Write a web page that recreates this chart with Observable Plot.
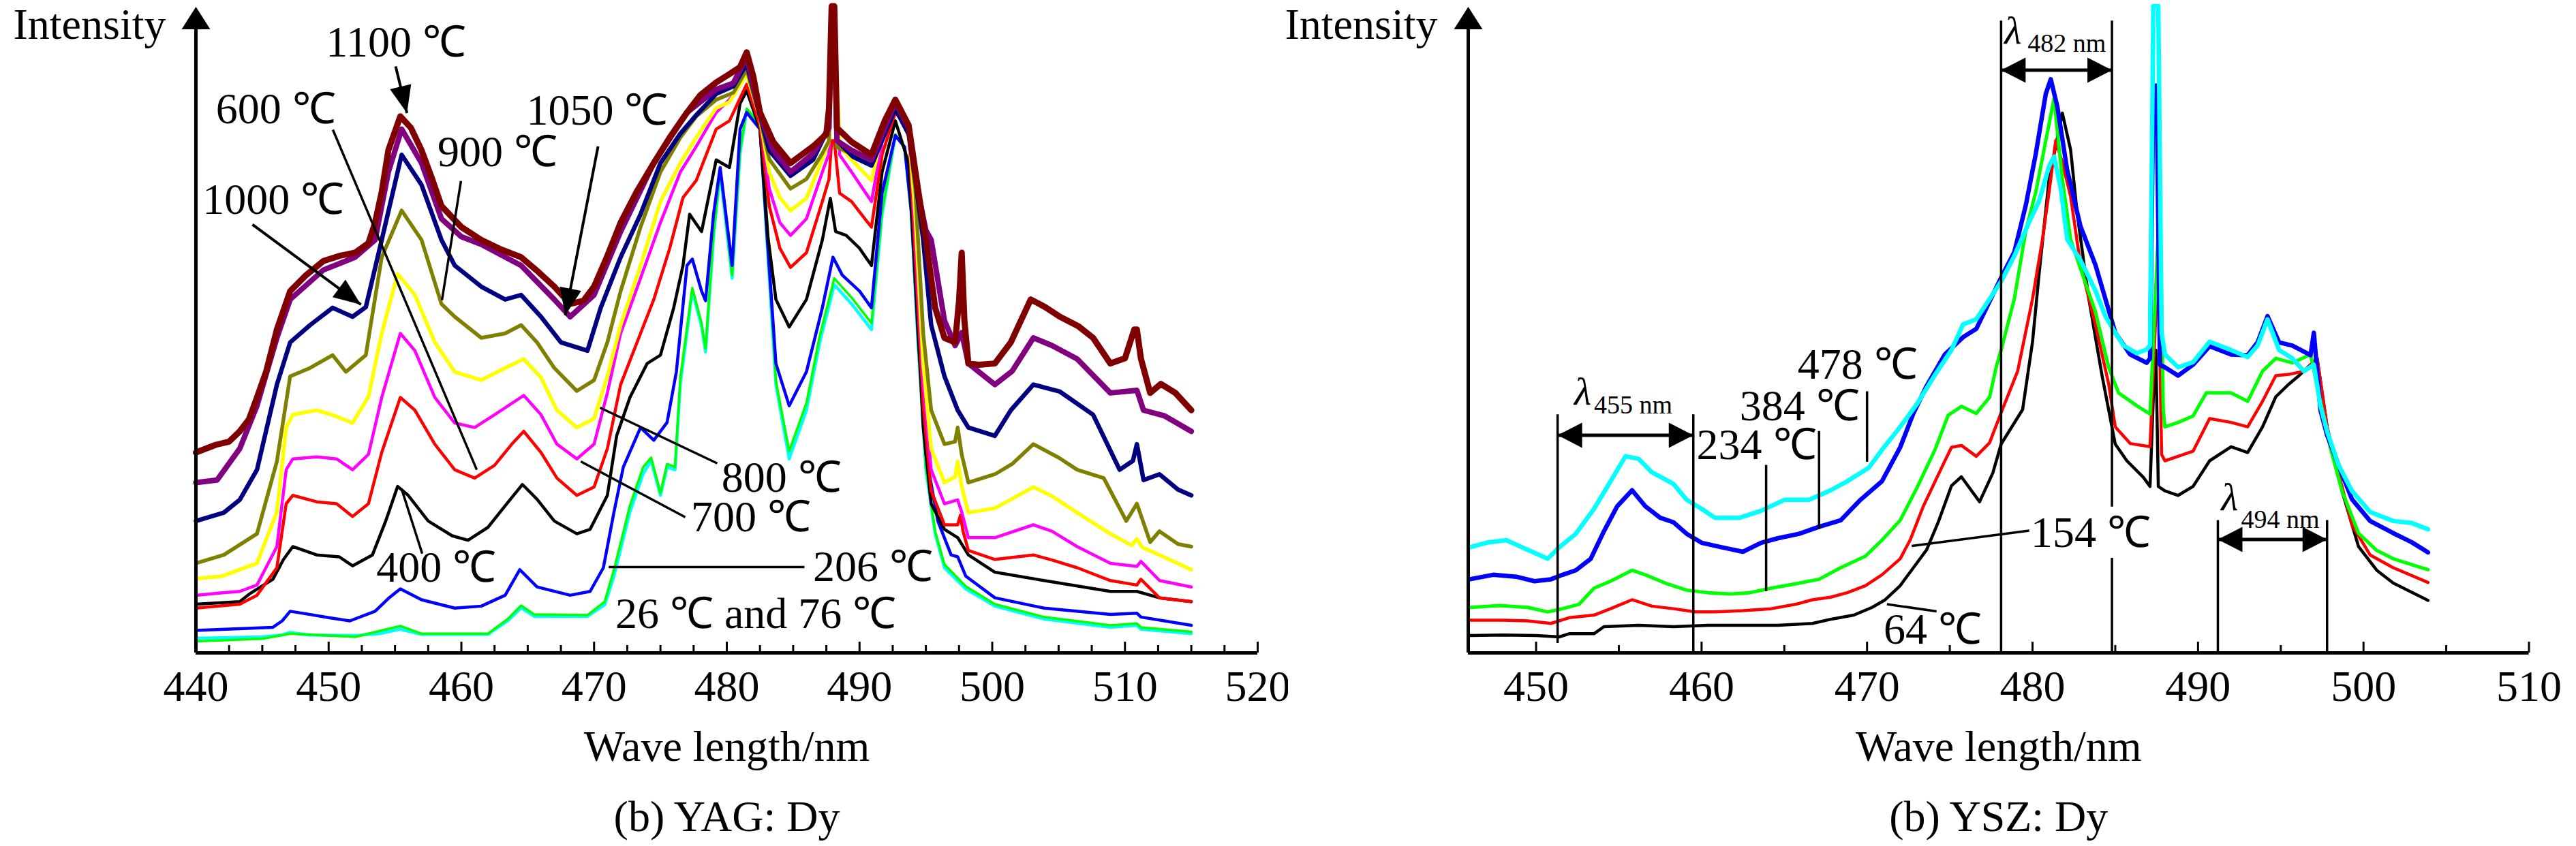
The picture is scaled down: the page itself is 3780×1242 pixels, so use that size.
<!DOCTYPE html>
<html>
<head>
<meta charset="utf-8">
<script src="https://cdn.jsdelivr.net/npm/d3@7"></script>
<script src="https://cdn.jsdelivr.net/npm/@observablehq/plot@0.6"></script>
<style>
html,body{margin:0;padding:0;background:#fff;}
#wrap{position:relative;width:3780px;height:1242px;display:flex;overflow:hidden;background:#fff;}
#wrap svg{flex:none;}
</style>
</head>
<body>
<div id="wrap"></div>
<script>
// ---------------- DATA: (b) YAG:Dy  [wavelength nm, intensity a.u.] ----------------
const yag26 = [[440,2.3],[445,2.5],[446.5,2.8],[447.1,3.2],[448.5,2.8],[452,2.7],[453.8,3],[455.4,3.7],[457,2.9],[462,2.9],[463.5,5],[464.5,7],[465.5,5.7],[469.5,5.7],[470.8,7.5],[471.5,12],[472.7,22],[473.7,28],[474.3,30],[475,24.6],[475.5,29],[476.1,28.6],[476.5,42],[477.4,56.5],[478.1,51],[478.4,47],[479,65],[479.5,75],[480.4,58.5],[481,78],[481.5,84.8],[482.5,82.4],[483.1,61.8],[483.7,41.9],[484.7,30.3],[486,37.9],[487,48.5],[487.8,55],[488.1,57.5],[489.4,54.5],[490.9,50.5],[491.7,68.5],[492.7,80.8],[493.4,79],[493.9,68.5],[494.4,48.5],[495,28.6],[495.7,18.6],[496.4,13.3],[498,10],[500.2,7.3],[503.9,5.3],[508.9,4],[510.9,4.3],[511.2,3.7],[515,3]];
const yag76 = [[440,1.8],[445,2.2],[447.1,3],[452,2.5],[455.4,4.2],[457,3],[462,3],[463.5,5.3],[464.5,7.4],[465.5,6],[469.5,5.9],[470.8,8],[471.5,13],[472.7,23],[473.7,29],[474.3,30.5],[475,25],[475.5,29.5],[476.1,29],[476.5,43],[477.4,57],[478.1,51.5],[478.4,47.5],[479,65.5],[479.5,75.5],[480.4,59],[481,78.5],[481.5,85],[482.5,82.6],[483.1,62.5],[483.7,42.5],[484.7,31.5],[486,39],[487,49.5],[487.8,56],[488.1,58.5],[489.4,55.5],[490.9,51.5],[491.7,69],[492.7,81],[493.4,79],[493.9,68.5],[494.4,48.5],[495,29],[495.7,19],[496.4,13.8],[498,10.4],[500.2,7.6],[503.9,5.6],[508.9,4.3],[510.9,4.6],[511.2,4],[515,3.3]];
const yag206 = [[440,3.5],[445.8,4],[446.5,5],[447.1,6.5],[448.6,6],[450,5.5],[451.6,5],[453.5,6.5],[454.5,8.5],[455.4,10],[457,8.3],[459.5,7],[461.5,7.3],[463.3,9],[464.4,13],[465.7,10.3],[468.2,9],[469.7,9.6],[470.7,13.3],[471.5,22],[472.2,29],[473.5,35.2],[474.5,33.2],[475.5,36],[476.2,43.9],[477,60.5],[477.4,61.5],[478.1,56.5],[478.4,55],[479,68.5],[479.5,75.8],[480.4,60.5],[481,81.8],[481.5,84.4],[482.5,81.8],[483.1,63.2],[483.7,45.2],[484.7,38.6],[486,43.9],[487.2,53.9],[488,61.8],[488.7,59],[490,56.5],[490.9,53.9],[491.7,71.8],[492.7,80.8],[493.4,79],[493.9,69],[494.4,50],[495,31],[495.9,20.6],[496.9,15.3],[497.4,15],[498,12],[500.2,8.6],[503.9,7],[508.9,6],[510.9,6.2],[511.2,5.6],[515,4.3]];
const yag400 = [[440,7.6],[443.3,8],[444.1,9.3],[445.8,11.5],[446.6,14.6],[447.3,16.6],[449.1,15.3],[450.8,15],[451.8,13.6],[453.3,15.3],[454.3,20.6],[455.2,26],[456,24.6],[457.5,20.6],[459.3,18.3],[460.5,17.6],[462,19.6],[463.5,23.5],[464.6,26.3],[465.7,24],[467,20.6],[468.7,18.6],[469.7,19.3],[471,24.6],[471.7,33.9],[472.7,39.9],[474,45.2],[475,46.5],[476,53.9],[476.7,60.5],[477.2,68.5],[478.1,65.8],[479.2,77],[480.2,75.8],[481,85.8],[481.5,87.8],[482.5,81.8],[483.1,65],[483.7,55.2],[484.7,50.9],[486,55.2],[487.2,64.5],[487.8,71],[488.2,65.8],[489,65.2],[490,63.2],[490.9,60.5],[491.7,75.1],[492.7,83.1],[493.7,76.5],[494.2,59.2],[494.8,35.2],[495.4,23.3],[496.4,19.3],[497.4,18],[498.2,15.3],[500.2,12.6],[503.9,11.3],[508.9,9.6],[510.9,9.6],[512.6,8.6],[515,8]];
const yag600 = [[440,7],[443.3,7.6],[444.6,9],[446.1,13.3],[446.8,23.3],[447.3,24.6],[449.1,23.6],[450.6,23.3],[451.8,21.3],[453,23.3],[454,31.3],[455.4,39.9],[456.5,37.9],[458,32.6],[459.5,28.6],[461,27.3],[462.5,29.3],[463.8,32.6],[464.7,34.6],[466,31.3],[467.2,27.3],[468.7,24.6],[470,25.9],[471,31.9],[472,41.9],[473.5,49.9],[474.5,55.2],[475.7,63.2],[476.7,71.1],[477.7,73.8],[479.2,81.8],[480.2,83.1],[481.5,88.8],[482.5,82.4],[483.2,69.8],[484,63.2],[484.8,60.2],[486,62.5],[487.2,70.5],[487.7,74],[487.9,80],[488.1,80],[488.5,71.8],[489.4,70.5],[490.4,67.8],[490.9,66.5],[491.7,77.8],[492.7,84.4],[493.7,81.8],[494.2,61.8],[494.8,38.6],[495.4,25.3],[496.4,20],[497.4,20],[497.6,21.5],[497.8,19],[498.2,16],[500.2,14.6],[503.1,15.3],[504.5,14.5],[506.4,13.3],[508.9,11.3],[510.9,10.6],[511.2,11.5],[512.6,8.6],[515,8]];
const yag700 = [[440,9],[442,9.4],[443.3,9.6],[444.6,10.6],[446.1,16.6],[446.8,28.6],[447.3,30.3],[449.1,30.6],[450.6,30.3],[451.8,28.6],[453,31],[454,39.9],[455.4,49.9],[456.5,47.2],[458,39.9],[459.5,35.9],[461,35.2],[462.5,37.2],[464.7,40.2],[466,37.2],[467.2,32.6],[468.7,30.3],[470,32.6],[471,40.6],[472,49.9],[473.5,58.5],[475,67.2],[476.5,75.1],[477.7,79.1],[479.2,84.4],[480.2,86.4],[481.5,90.4],[482.5,83.8],[483.2,72.5],[484,67.2],[484.8,65.2],[486,67.8],[487.2,75.1],[487.7,78],[487.9,95],[488.1,95],[488.5,77.8],[489.4,75.1],[490.9,70.5],[491.7,79.8],[492.7,85.1],[493.7,82.4],[494.2,65.2],[494.8,41.9],[495.4,28.6],[496.4,23.3],[497.4,23.9],[497.7,22],[498.2,18],[500.2,18],[503.1,20],[504.5,19],[506.4,16.6],[508.9,14],[510.9,13.5],[511.2,14.3],[512.6,11.3],[515,10.3]];
const yag800 = [[440,11.6],[442,12],[444.6,14],[446.1,22],[446.8,35.2],[447.3,37.2],[449.1,37.9],[450.5,37],[451.8,35.9],[453,40],[454,49.9],[455.2,59.2],[456.5,55.9],[458,48.5],[459.5,43.9],[461.5,42.6],[463.3,44.5],[464.7,45.9],[466,43],[467.2,37.9],[468.7,35.2],[470,36.6],[471,43.2],[472,51.2],[473.5,60.5],[475,70.5],[476.5,76.5],[477.7,80.5],[479.2,85.1],[480.2,86],[481.5,90.4],[482.5,83.5],[483.2,75.1],[484,71.1],[484.8,69.1],[486,71],[487.2,77.1],[487.7,80],[487.9,100],[488.1,100],[488.5,79.1],[489.4,77],[490.9,73.8],[491.7,81.1],[492.7,85],[493.7,82],[494.2,68.5],[494.8,45.2],[495.4,31.9],[496.4,26.6],[497.2,27.5],[497.4,29.9],[497.7,26],[498.2,21.9],[500.2,22.6],[503.1,25.9],[504.5,24.5],[506.4,21.9],[508.9,18.6],[510.5,16.8],[510.9,17.8],[511.3,16.5],[512.6,15.3],[515,13]];
const yag900 = [[440,14],[442.1,15.3],[444.6,18.6],[446.1,29.9],[447.1,43.2],[448.6,44.5],[450.3,46.5],[451.3,43.9],[452.8,46.5],[454,61.8],[455.5,69.1],[457,64.5],[458.5,54.5],[459.5,52.5],[461.5,49.2],[463.3,49.9],[464.5,51.2],[465.7,48.5],[467,44.5],[468.7,40.9],[470,42.6],[471,48.5],[472,56.5],[473.5,66.5],[475,75.1],[476.5,80.5],[477.7,83.8],[479.2,86.4],[480.5,87.5],[481.5,91.1],[482.5,83.5],[483.2,77.1],[484.8,72.5],[486,74],[487.2,78],[487.7,80],[487.9,100],[488.1,100],[488.3,79],[490.9,76.5],[492.7,86],[493.7,81],[494.2,72.5],[494.8,49.9],[495.4,37.9],[496.4,32.6],[497.2,33],[497.4,35.2],[497.7,31],[498.2,26.6],[500.2,27.9],[501.5,29.5],[503.1,32.6],[505,30.5],[506.4,28.6],[508.4,27.3],[510.1,20.6],[510.9,23.3],[511.9,17.3],[512.6,19],[514,17],[515,16.6]];
const yag1000 = [[440,20.6],[442.1,21.9],[443.3,23.9],[444.6,28.6],[446.1,41.9],[447.1,48.5],[448.6,51.2],[450.3,53.9],[451.8,52.5],[452.8,54],[454,64.5],[455.5,77.8],[457,73.1],[458.5,64.5],[459.5,60.5],[461.5,57.2],[463.3,55.2],[464.5,55.9],[466,52.5],[467.5,48.5],[469.5,47.2],[470.5,53.9],[472,61.8],[473.5,68.5],[475,76.5],[476.5,81.1],[477.7,84],[479.2,87.3],[480.5,88.5],[481.5,92],[482.5,84],[483.2,78.5],[484.8,74.5],[486.5,77],[487.2,80],[487.7,82],[487.9,100],[488.1,100],[488.3,80],[489.5,77.5],[490.9,76.1],[492.7,85],[493.7,81],[494.2,74],[494.8,64.5],[495.4,51.2],[496.4,43.2],[497.4,37.9],[498.2,35.2],[500.2,33.9],[501.4,37.9],[503.1,41.9],[505.1,40.8],[507.6,37.2],[509.6,28.6],[510.6,30],[510.9,32.6],[511.4,27],[512.6,27.9],[514,25.5],[515,24.6]];
const yag1050 = [[440,26.6],[441.6,27],[443.3,31.9],[444.6,38.6],[446.1,49.2],[447.1,55.2],[449.6,59.8],[452,61.8],[453.5,64.5],[454.5,75.1],[455.5,81.8],[457,76.5],[458.5,67.8],[460,65],[461.5,63.8],[464.5,60.5],[467,55.2],[468.2,52.5],[470,55.9],[472,65.8],[474.5,76.5],[477,84.4],[479.2,88],[480.5,89],[481.5,93.1],[482.5,84],[483.5,78.5],[484.8,75.1],[486.5,78],[487.7,82],[487.9,100],[488.1,100],[488.3,80],[489.4,78.5],[490.9,77],[492.7,86],[493.7,82],[494.4,72],[495,66],[495.4,64.5],[496.4,51.9],[497.2,48],[497.7,50],[498.2,45.2],[500.2,41.9],[501.5,44],[503.1,49.2],[504.5,48],[506.4,45.9],[508.9,40.6],[510.9,41],[511.4,37.9],[513,37],[515,34.6]];
const yag1100 = [[440,31.3],[441.5,32.5],[442.5,33],[443.3,34.6],[444,36.5],[444.6,39.9],[445.3,44],[446.1,50.5],[447.1,56.5],[448.3,59],[449.6,61.2],[450.8,62],[452,62.5],[453,64],[453.5,67.2],[454,72],[454.5,78.5],[455.4,83.8],[456.2,82],[457,78.5],[457.8,74],[458.5,69.8],[460,66.5],[461.5,64.5],[463,63],[464.5,61.8],[465.8,59.5],[467,57.2],[468.2,54.5],[469.2,55],[470,57.2],[471,62],[472,67.2],[473.2,72],[474.5,76.5],[475.7,80.5],[477,84.4],[478,87.1],[479.2,89.1],[480.2,90.4],[481,91.5],[481.5,93.8],[482,90],[482.5,84.4],[483.5,79.8],[484.8,76.5],[486.5,79.1],[487.5,81],[487.7,85],[487.9,101],[488.1,101],[488.3,82],[489.4,79.8],[490.9,77.8],[491.9,83.1],[492.7,86.4],[493.7,82.4],[494.4,72.5],[495,64.5],[495.7,53.9],[496.4,49.2],[497.2,48.5],[497.5,55],[497.7,62.5],[497.9,52],[498.2,45.2],[499,45],[500.2,45.2],[501.4,48.5],[502.9,55.2],[504,54],[505.1,52.5],[506.5,51],[507.6,49.2],[508.9,45.2],[510,46],[510.7,50.5],[510.9,50.5],[511.2,46],[511.9,40.6],[512.7,42],[513.8,40.6],[515,37.9]];

// ---------------- DATA: (b) YSZ:Dy ----------------
const ysz64 = [[446,2.7],[448,2.8],[450,2.7],[451.4,2.5],[452,3],[453.5,3],[454.1,4.1],[456.2,4.3],[458.3,4.1],[460.4,4.3],[462.5,4.3],[464.6,4.3],[466.7,4.6],[467.9,5.3],[469.2,5.9],[470.3,7.1],[471.1,8.3],[472,10.5],[472.8,13.3],[473.6,16.1],[474.3,20.4],[475.1,26.1],[475.7,27.5],[476.8,23.6],[477.6,28.1],[478.1,32.6],[479.4,38],[480,48.6],[480.4,59.3],[481,74],[481.8,84.3],[482.3,78.6],[482.7,68.6],[483.4,55.3],[484.2,43.3],[485,32.6],[485.7,30],[486.7,27.4],[487.1,26],[487.3,40],[487.45,47.3],[487.6,26],[488,25.3],[488.8,24.6],[489.7,26],[490.7,30],[492,32.2],[493,31.3],[493.9,35.3],[494.7,40],[495.5,42],[496.1,43.3],[497.2,46],[497.8,35.3],[498.7,25.3],[499.7,16.6],[500.8,12.9],[501.8,10.9],[503.9,8.2]];
const ysz154 = [[446,5.1],[448,5.1],[449.5,5],[450.9,4.6],[452,5.5],[453.5,5.9],[454.5,6.9],[455.8,8.3],[457,7.3],[458.3,6.9],[459.6,6.4],[460.8,6.4],[462.5,6.6],[464.2,6.9],[465.7,7.6],[466.7,8.3],[467.8,8.7],[468.8,9.4],[469.9,10.5],[470.9,12.2],[472,14.7],[472.6,17.6],[473.4,22.9],[474.5,28.9],[475.1,32.1],[475.7,32.4],[476.6,30.7],[477.4,32.8],[478.1,37.5],[479.1,44],[480,55.3],[480.6,64.6],[481,72],[481.4,80],[481.8,76.6],[482.3,71.3],[482.9,60.6],[483.8,51.3],[484.6,42],[485,35.3],[485.9,32.7],[487.1,32.2],[487.4,50],[487.6,60.6],[487.8,31],[488,30],[488.8,30.7],[489.7,31.5],[490.7,36.6],[492,36],[493,35.3],[493.9,39.3],[494.7,43.3],[495.5,43.5],[496.4,44],[497.2,46],[497.8,35.3],[498.5,28],[499.3,20],[500.4,15.3],[501.8,13.3],[503.9,11]];
const ysz234 = [[446,7.1],[447.8,7.4],[449.5,7.1],[450.7,6.4],[451.6,6.9],[452.6,7.6],[453.5,10.1],[454.5,11.2],[455.8,12.9],[456.6,12.2],[457.9,10.8],[459.1,9.8],[460.4,9.4],[461.7,9.2],[462.9,9.4],[464.2,10.1],[465.7,10.8],[467.1,11.5],[468.4,13.3],[469.9,15.1],[470.9,17.6],[472,20.7],[473,25.7],[474.1,31.7],[474.9,37.1],[475.7,38.5],[476.6,37.4],[477.4,39.9],[477.8,44.6],[478.1,47.3],[478.9,55.3],[479.6,66],[480.2,72],[480.8,80],[481.3,86.6],[481.8,74],[482.3,64.6],[482.9,60],[483.8,53.3],[484.6,44.6],[485.2,40.6],[486.3,38.6],[487.1,37.3],[487.5,60],[487.7,71.3],[487.9,38],[488,35.3],[488.8,36],[489.7,37],[490.5,40.6],[492,40.6],[493,39.3],[493.9,44],[494.7,46],[495.7,45.3],[496.8,46.6],[497.4,39.3],[498,32],[498.7,25.3],[499.7,18.7],[500.8,16],[501.8,14.7],[503.9,13]];
const ysz384 = [[446,11.5],[447.4,12.2],[448.8,11.9],[449.9,11.2],[450.9,11.5],[451.6,12.2],[452.4,12.9],[453.3,14.7],[454.1,19],[454.9,22.9],[455.8,25.4],[456.6,22.9],[457.5,21.1],[458.3,20.4],[459.1,18.6],[460,17.2],[461.2,16.5],[462.5,15.8],[463.6,17.2],[464.6,17.9],[465.9,18.6],[467.1,19.7],[468.4,20.7],[469.6,23.9],[470.9,26.8],[472,32.1],[472.8,37.4],[473.6,41.7],[474.7,46.6],[475.8,49.3],[476.6,50.6],[478.1,58.6],[478.9,62.6],[479.6,70],[480.2,78],[480.8,87.3],[481.1,89.6],[481.5,85.3],[482.1,75.3],[482.9,66.6],[483.8,60.6],[484.4,55.3],[485,50],[485.9,46.6],[486.9,45.3],[487.1,46],[487.3,88.6],[487.5,88.6],[487.7,45],[488,44.6],[488.8,43.3],[489.7,45],[490.7,47.9],[492,46.6],[493,46.5],[493.6,48.5],[494.2,52.6],[494.9,48.5],[495.7,48],[496.8,46.5],[497,50],[497.2,44],[497.4,37.9],[497.8,34],[498.5,29.3],[499.3,24],[500.4,20.6],[501.8,18.7],[502.9,17.3],[503.9,15.7]];
const ysz478 = [[446,16.5],[447,17.2],[448.2,17.6],[449.5,16.1],[450.7,14.7],[451.4,16.5],[452.4,18.6],[453.5,22.5],[454.5,26.8],[455.4,30.7],[456.2,30.3],[457,28.2],[458.3,26.4],[459.1,23.9],[460,22.5],[460.8,21.1],[462.3,21.1],[463.6,22.2],[465,23.9],[466.5,23.9],[467.8,25.4],[468.8,26.8],[470.1,28.9],[470.9,31.7],[472,35.3],[473,38.8],[474.1,43.4],[475.1,47.3],[475.8,51.3],[476.6,52.1],[478.1,58],[478.9,62],[479.8,67.3],[480.4,70.6],[481,76],[481.3,77.5],[481.7,72.6],[482.1,64.6],[482.9,61.3],[483.8,56.6],[484.4,52.6],[485,50],[485.5,48],[486.3,46.8],[486.9,47.4],[487.1,48],[487.3,101],[487.6,101],[487.8,50],[488,46.6],[488.8,44.6],[489.7,45.4],[490.7,48.6],[492,47.3],[493,46.2],[493.6,48],[494.2,52.1],[494.9,47.3],[495.7,46],[496.4,44],[497,45],[497.4,38.6],[497.8,34.6],[498.5,29.3],[499.3,25.3],[500.4,22],[501.8,20.6],[502.9,20.3],[503.9,19.3]];

// axis ticks
const yagMajorTicks = [440,450,460,470,480,490,500,510,520];
const yagMinorTicks = [442.5,445,447.5,452.5,455,457.5,462.5,465,467.5,472.5,475,477.5,482.5,485,487.5,492.5,495,497.5,502.5,505,507.5,512.5,515,517.5];
const yszMajorTicks = [450,460,470,480,490,500,510];
const yszMinorTicks = [455,465,475,485,495,505];

// annotation texts (label anchor positions in data units)
const yagLabels = [
  {t:"1100 ℃", x:449.8, y:95.3}, {t:"600 ℃", x:441.5, y:84.9}, {t:"900 ℃", x:458.2, y:78.2},
  {t:"1050 ℃", x:464.9, y:84.7}, {t:"1000 ℃", x:440.5, y:70.7}, {t:"800 ℃", x:479.6, y:27.3},
  {t:"700 ℃", x:477.3, y:21.2}, {t:"400 ℃", x:453.6, y:13.3}, {t:"206 ℃", x:486.5, y:13.4},
  {t:"26 ℃ and 76 ℃", x:471.6, y:6.1}
];
const yagLeaders = [
  {x1:450.32,y1:81.7,x2:461.16,y2:28.6}, {x1:459.97,y1:73.7,x2:458.54,y2:55.1},
  {x1:470.45,y1:38.3,x2:479.28,y2:29.6}, {x1:469.0,y1:29.9,x2:476.87,y2:21.2},
  {x1:455.5,y1:25.6,x2:457.05,y2:15.5}, {x1:471.1,y1:13.4,x2:485.85,y2:13.4}
];
const yagArrows = [
  {x1:455.05,y1:91.6,x2:455.9,y2:84.3}, {x1:470.3,y1:79.1,x2:467.83,y2:52.7}, {x1:444.26,y1:66.9,x2:452.43,y2:54.4}
];
const yszLabels = [
  {t:"154 ℃", x:479.9, y:18.7}, {t:"234 ℃", x:459.7, y:32.4}, {t:"384 ℃", x:462.3, y:38.5},
  {t:"478 ℃", x:465.8, y:45}, {t:"64 ℃", x:471, y:3.6}
];
const yszLambda = [
  {x:478.3, y:97.1, sx:479.7, sy:95.2, sub:"482 nm"},
  {x:452.3, y:40.7, sx:453.5, sy:38.7, sub:"455 nm"},
  {x:491.4, y:24.3, sx:492.6, sy:20.8, sub:"494 nm"}
];
const yszVLines = [
  {x:451.3,y1:1.5,y2:37.2},{x:459.5,y1:0,y2:37.2},{x:478.1,y1:0,y2:98.7},
  {x:484.8,y1:22.8,y2:98.7},{x:484.8,y1:0,y2:14.8},{x:491.2,y1:0,y2:20.7},{x:497.8,y1:0,y2:20.7},
  {x:463.9,y1:9.6,y2:29.3},{x:467.1,y1:19.3,y2:34.6},{x:470,y1:29.8,y2:40.8}
];
const yszLeaders = [{x1:472.7,y1:16.7,x2:479.8,y2:19.1},{x1:471.2,y1:7.6,x2:474.2,y2:6.5}];
const yszSpans = [{x1:451.3,x2:459.5,y:34},{x1:478.1,x2:484.8,y:91},{x1:491.2,x2:497.8,y:17.7}];

// ---------------- helpers ----------------
const FONT = '"Liberation Serif","Times New Roman",Times,serif';
const FS = 64;

function tri(len, wid, angleDeg) {
  const a = angleDeg * Math.PI / 180, c = Math.cos(a), s = Math.sin(a);
  const pts = [[0,0],[-len,-wid/2],[-len,wid/2]].map(([x,y]) => [x*c - y*s, x*s + y*c]);
  return {draw(ctx) { ctx.moveTo(pts[0][0],pts[0][1]); ctx.lineTo(pts[1][0],pts[1][1]); ctx.lineTo(pts[2][0],pts[2][1]); ctx.closePath(); }};
}

function panel(o) {
  const W = 1890, H = 1242;
  const kx = (W - o.ml - o.mr) / (o.xd[1] - o.xd[0]);
  const ky = (H - 18 - 284) / 100;
  const ang = (d) => Math.atan2(-(d.y2 - d.y1) * ky, (d.x2 - d.x1) * kx) * 180 / Math.PI;
  const x0 = o.xd[0];
  const marks = [];
  for (const s of o.series) {
    marks.push(Plot.line(s.data, {x: d => d[0], y: d => d[1], stroke: s.color, strokeWidth: s.w, strokeLinejoin: "round", strokeLinecap: "round"}));
  }
  // axes
  marks.push(Plot.ruleY([0], {strokeWidth: 5}));
  marks.push(Plot.ruleX([x0], {y1: 0, y2: 97.5, strokeWidth: 5}));
  marks.push(Plot.dot([{x: x0, y: 100.9}], {x: "x", y: "y", r: 5, symbol: tri(33, 42, -90), fill: "black", stroke: "none"}));
  marks.push(Plot.ruleX(o.major, {y1: 0, y2: 16 / ky, strokeWidth: 3}));
  marks.push(Plot.ruleX(o.minor, {y1: 0, y2: 11 / ky, strokeWidth: 3}));
  marks.push(Plot.axisX(o.major, {tickSize: 0, tickPadding: 25, fontSize: FS, fontFamily: FONT, label: null, tickFormat: d => String(d)}));
  marks.push(Plot.text(["Wave length/nm"], {frameAnchor: "bottom", dy: 138, lineAnchor: "middle", fontSize: FS, fontFamily: FONT}));
  marks.push(Plot.text([o.caption], {frameAnchor: "bottom", dy: 241, lineAnchor: "middle", fontSize: FS, fontFamily: FONT}));
  marks.push(Plot.text(["Intensity"], {frameAnchor: "top-left", dx: o.intX - o.ml, dy: 18.5, textAnchor: "start", lineAnchor: "middle", fontSize: FS, fontFamily: FONT}));
  // annotations
  if (o.vlines) marks.push(Plot.ruleX(o.vlines, {x: "x", y1: "y1", y2: "y2", strokeWidth: 3.5}));
  if (o.leaders) marks.push(Plot.link(o.leaders, {x1: "x1", y1: "y1", x2: "x2", y2: "y2", strokeWidth: 3.5}));
  if (o.arrows) {
    marks.push(Plot.link(o.arrows, {x1: "x1", y1: "y1", x2: "x2", y2: "y2", strokeWidth: 4}));
    for (const a of o.arrows) marks.push(Plot.dot([a], {x: "x2", y: "y2", r: 5, symbol: tri(40, 32, ang(a)), fill: "black", stroke: "none"}));
  }
  if (o.spans) {
    marks.push(Plot.link(o.spans, {x1: "x1", x2: "x2", y1: "y", y2: "y", strokeWidth: 5}));
    for (const s of o.spans) {
      marks.push(Plot.dot([s], {x: "x2", y: "y", r: 5, symbol: tri(36, 37, 0), fill: "black", stroke: "none"}));
      marks.push(Plot.dot([s], {x: "x1", y: "y", r: 5, symbol: tri(36, 37, 180), fill: "black", stroke: "none"}));
    }
  }
  if (o.labels) marks.push(Plot.text(o.labels, {x: "x", y: "y", text: "t", textAnchor: "start", lineAnchor: "middle", fontSize: FS, fontFamily: FONT}));
  if (o.lambda) {
    marks.push(Plot.text(o.lambda, {x: "x", y: "y", text: () => "λ", textAnchor: "start", lineAnchor: "middle", fontSize: 58, fontStyle: "italic", fontFamily: FONT}));
    marks.push(Plot.text(o.lambda, {x: "sx", y: "sy", text: "sub", textAnchor: "start", lineAnchor: "middle", fontSize: 38, fontFamily: FONT}));
  }
  return Plot.plot({
    width: W, height: H,
    marginLeft: o.ml, marginRight: o.mr, marginTop: 18, marginBottom: 284,
    x: {domain: o.xd, axis: null},
    y: {domain: [0, 100], axis: null},
    style: {fontFamily: FONT, background: "white", color: "black", overflow: "visible"},
    marks
  });
}

const wrap = document.getElementById("wrap");
wrap.appendChild(panel({
  ml: 287, mr: 45, xd: [440, 520], intX: 19,
  major: yagMajorTicks, minor: yagMinorTicks, caption: "(b) YAG: Dy",
  series: [
    {data: yag26, color: "#00FFFF", w: 4.5}, {data: yag76, color: "#00FF00", w: 3.5},
    {data: yag206, color: "#0000FF", w: 4.5}, {data: yag400, color: "#000000", w: 4.5},
    {data: yag600, color: "#FF0000", w: 4.5}, {data: yag700, color: "#FF00FF", w: 4.5},
    {data: yag800, color: "#FFFF00", w: 5.5}, {data: yag900, color: "#808000", w: 5.5},
    {data: yag1000, color: "#000080", w: 6.5}, {data: yag1050, color: "#800080", w: 8},
    {data: yag1100, color: "#800000", w: 9}
  ],
  leaders: yagLeaders, arrows: yagArrows, labels: yagLabels
}));
wrap.appendChild(panel({
  ml: 264, mr: 69.5, xd: [445.9, 510], intX: -5,
  major: yszMajorTicks, minor: yszMinorTicks, caption: "(b) YSZ: Dy",
  series: [
    {data: ysz64, color: "#000000", w: 4.5}, {data: ysz154, color: "#FF0000", w: 4.5},
    {data: ysz234, color: "#00FF00", w: 5}, {data: ysz384, color: "#0000FF", w: 6.5},
    {data: ysz478, color: "#00FFFF", w: 6.5}
  ],
  vlines: yszVLines, leaders: yszLeaders, spans: yszSpans, labels: yszLabels, lambda: yszLambda
}));
</script>
</body>
</html>
